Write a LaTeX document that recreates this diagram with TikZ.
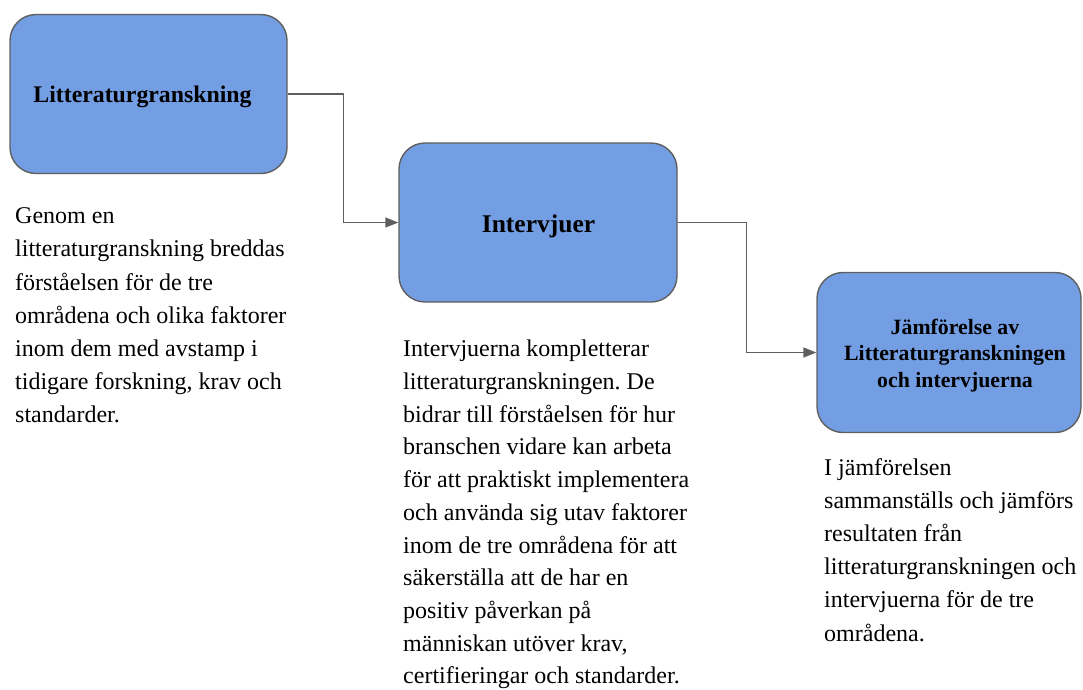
\documentclass[tikz,border=0pt]{standalone}
\usepackage{fontspec}
\setmainfont{Liberation Serif}
\usetikzlibrary{arrows.meta}
\definecolor{boxblue}{RGB}{115,158,227}
\definecolor{edgegray}{RGB}{95,95,95}
\frenchspacing
\begin{document}
\begin{tikzpicture}[x=1pt,y=-1pt,
  stepbox/.style={draw=edgegray,line width=1.4pt,fill=boxblue,rounded corners=26pt,inner sep=0pt},
  title/.style={inner sep=0pt,align=center},
  desc/.style={inner sep=0pt,anchor=north west,align=left,font=\fontsize{24}{33.2}\selectfont},
  conn/.style={draw=edgegray,line width=1.4pt,-{Triangle[length=13pt,width=10pt]}}]
\useasboundingbox (0,0) rectangle (1083,689);
\node[stepbox,minimum width=277pt,minimum height=159pt] (b1) at (148.5,94) {};
\node[stepbox,minimum width=278pt,minimum height=159pt] (b2) at (538,222.5) {};
\node[stepbox,minimum width=264pt,minimum height=160pt] (b3) at (949,352.5) {};
\node[title,font=\bfseries\fontsize{23.8}{28}\selectfont] (l1) at (142.5,96.5) {Litteraturgranskning};
\node[title,font=\bfseries\fontsize{25.5}{30}\selectfont] (l2) at (538.5,226.5) {Intervjuer};
\node[title,font=\bfseries\fontsize{21.8}{26.5}\selectfont] (l3) at (955,355.5) {Jämförelse av\\Litteraturgranskningen\\och intervjuerna};
\draw[conn] (b1.east) -- ++(56,0) |- (b2.west);
\draw[conn] (b2.east) -- ++(69,0) |- (b3.west);
\node[desc] (t1) at (15,207.5) {Genom en\\litteraturgranskning breddas\\förståelsen för de tre\\områdena och olika faktorer\\inom dem med avstamp i\\tidigare forskning, krav och\\standarder.};
\node[desc,font=\fontsize{24}{32.7}\selectfont] (t2) at (403,340) {Intervjuerna kompletterar\\litteraturgranskningen. De\\bidrar till förståelsen för hur\\branschen vidare kan arbeta\\för att praktiskt implementera\\och använda sig utav faktorer\\inom de tre områdena för att\\säkerställa att de har en\\positiv påverkan på\\människan utöver krav,\\certifieringar och standarder.};
\node[desc] (t3) at (824,458) {I jämförelsen\\sammanställs och jämförs\\resultaten från\\litteraturgranskningen och\\intervjuerna för de tre\\områdena.};
\end{tikzpicture}
\end{document}
